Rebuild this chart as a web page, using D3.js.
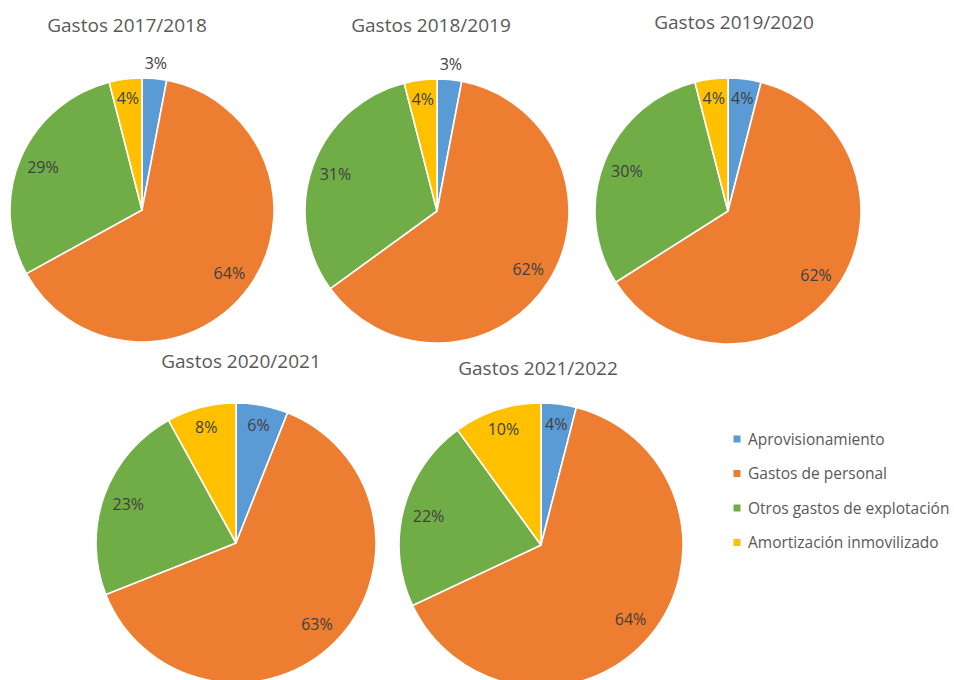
<!DOCTYPE html>
<html>
<head>
<meta charset="utf-8">
<script src="https://cdn.jsdelivr.net/npm/d3@7"></script>
<style>
  html, body { margin: 0; padding: 0; background: #ffffff; }
  svg { display: block; font-family: "Open Sans", "Noto Sans", sans-serif; }
</style>
</head>
<body>
<svg id="chart" width="954" height="680"></svg>
<script>
// ---- Data ----
const categories = ["Aprovisionamiento", "Gastos de personal", "Otros gastos de explotación", "Amortización inmovilizado"];
const colors = ["#5B9BD5", "#ED7D31", "#70AD47", "#FFC000"];
const titles = ["Gastos 2017/2018", "Gastos 2018/2019", "Gastos 2019/2020", "Gastos 2020/2021", "Gastos 2021/2022"];
const values2017 = [3, 64, 29, 4];
const values2018 = [3, 62, 31, 4];
const values2019 = [4, 62, 30, 4];
const values2020 = [6, 63, 23, 8];
const values2021 = [4, 64, 22, 10];
const seriesValues = [values2017, values2018, values2019, values2020, values2021];

// ---- Layout (positions only) ----
const layout = [
  { cx: 142, cy: 210, r: 132, tx: 127, ty: 32 },
  { cx: 437, cy: 211, r: 132, tx: 431, ty: 32 },
  { cx: 728, cy: 211, r: 133, tx: 734, ty: 29 },
  { cx: 236, cy: 543, r: 140, tx: 241, ty: 368 },
  { cx: 541, cy: 545, r: 142, tx: 538, ty: 375 }
];

const svg = d3.select("#chart");
svg.append("rect").attr("width", 954).attr("height", 680).attr("fill", "#ffffff");

const color = d3.scaleOrdinal().domain(categories).range(colors);
const pie = d3.pie().sort(null).value(d => d.value);

seriesValues.forEach((vals, i) => {
  const L = layout[i];
  const data = categories.map((c, k) => ({ cat: c, value: vals[k] }));
  const arcs = pie(data);
  const g = svg.append("g").attr("transform", `translate(${L.cx},${L.cy})`);
  const arc = d3.arc().innerRadius(0).outerRadius(L.r);

  g.selectAll("path.slice")
    .data(arcs)
    .join("path")
    .attr("class", "slice")
    .attr("d", arc)
    .attr("fill", d => color(d.data.cat))
    .attr("stroke", "#ffffff")
    .attr("stroke-width", 1.6)
    .attr("stroke-linejoin", "round");

  const total = d3.sum(vals);
  g.selectAll("text.lbl")
    .data(arcs)
    .join("text")
    .attr("class", "lbl")
    .attr("transform", d => {
      const pct = d.data.value / total;
      let lr;
      if (pct <= 0.035) lr = L.r + 15;
      else if (pct < 0.15) lr = L.r * 0.855;
      else lr = L.r * 0.818;
      const a = (d.startAngle + d.endAngle) / 2;
      return `translate(${lr * Math.sin(a)},${-lr * Math.cos(a)})`;
    })
    .attr("text-anchor", "middle")
    .attr("dy", "0.36em")
    .attr("font-size", 16)
    .attr("fill", "#404040")
    .text(d => d3.format(".0%")(d.data.value / total));

  svg.append("text")
    .attr("x", L.tx)
    .attr("y", L.ty)
    .attr("text-anchor", "middle")
    .attr("font-size", 19)
    .attr("fill", "#595959")
    .text(titles[i]);
});

// ---- Legend ----
const legend = svg.append("g").attr("transform", "translate(737,439)");
const items = legend.selectAll("g.item")
  .data(categories)
  .join("g")
  .attr("class", "item")
  .attr("transform", (d, k) => `translate(0,${k * 34.5})`);
items.append("rect")
  .attr("x", -3.5).attr("y", -3.5)
  .attr("width", 7).attr("height", 7)
  .attr("fill", d => color(d));
items.append("text")
  .attr("x", 11)
  .attr("dy", "0.36em")
  .attr("font-size", 15.5)
  .attr("fill", "#595959")
  .text(d => d);
</script>
</body>
</html>
